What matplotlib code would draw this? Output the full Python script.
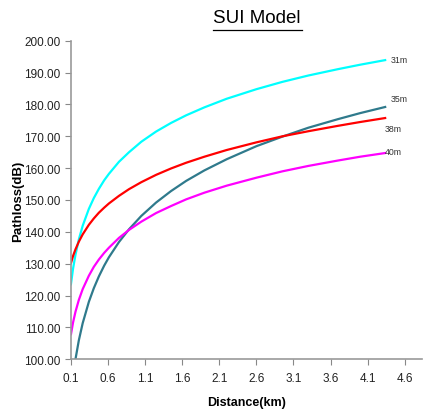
import matplotlib
matplotlib.use("Agg")
import matplotlib.pyplot as plt
from matplotlib.lines import Line2D

plt.rcParams['font.family'] = ['Liberation Sans', 'DejaVu Sans']

distance = [0.1, 0.13, 0.163, 0.208, 0.26, 0.343, 0.41, 0.478, 0.55, 0.613, 0.749, 0.884, 1.05,
            1.249, 1.45, 1.654, 1.9, 2.2, 2.6, 2.95, 3.3, 3.7, 4.0, 4.35]
pl_31m = [123.2, 128.4, 132.8, 137.6, 141.9, 147.2, 150.6, 153.5, 156.2, 158.2, 162.0, 165.0, 168.3,
          171.5, 174.2, 176.6, 179.1, 181.8, 184.8, 187.1, 189.1, 191.1, 192.5, 194.0]
pl_35m = [88.2, 94.6, 100.0, 105.9, 111.3, 118.0, 122.3, 126.0, 129.4, 132.0, 136.8, 140.8, 145.0,
          149.2, 152.8, 156.0, 159.3, 162.8, 166.9, 169.9, 172.7, 175.4, 177.3, 179.3]
pl_38m = [130.0, 132.4, 134.5, 136.9, 139.2, 142.2, 144.2, 146.0, 147.6, 148.9, 151.3, 153.4, 155.6,
          157.9, 159.9, 161.7, 163.6, 165.7, 168.1, 170.0, 171.6, 173.3, 174.5, 175.8]
pl_40m = [107.5, 111.5, 114.9, 118.6, 122.0, 126.2, 129.0, 131.3, 133.4, 135.0, 138.1, 140.6, 143.2,
          145.9, 148.1, 150.2, 152.3, 154.5, 157.0, 159.0, 160.7, 162.4, 163.6, 164.8]
labels = ["31m", "35m", "38m", "40m"]
xticks = [0.1, 0.6, 1.1, 1.6, 2.1, 2.6, 3.1, 3.6, 4.1, 4.6]
yticks = [100, 110, 120, 130, 140, 150, 160, 170, 180, 190, 200]

fig = plt.figure(figsize=(4.24, 4.14), dpi=100)
ax = fig.add_axes([0.167, 0.130, 0.828, 0.769])

series = [pl_31m, pl_35m, pl_38m, pl_40m]
colors = ["#00FFFF", "#2F7A8C", "#FF0000", "#FF00FF"]
for ys, c in zip(series, colors):
    ax.plot(distance, ys, color=c, lw=1.6, solid_capstyle="butt")

# end labels
offsets = [(3, 0), (3, 6), (-1, -8), (-1, 1)]
for ys, lab, (dx, dy) in zip(series, labels, offsets):
    ax.annotate(lab, (distance[-1], ys[-1]), xytext=(dx, dy), textcoords="offset points",
                fontsize=6.3, color="#333333", va="center", ha="left")

ax.set_xlim(0.1, 4.83)
ax.set_ylim(100, 200)
ax.set_xticks(xticks)
ax.set_xticklabels([f"{t:.1f}" for t in xticks])
ax.set_yticks(yticks)
ax.set_yticklabels([f"{t:.2f}" for t in yticks])
ax.tick_params(labelsize=8.5, colors="#222222", length=4, width=0.8)
ax.tick_params(axis="x", pad=5)
ax.tick_params(color="#888888")
for s in ["top", "right"]:
    ax.spines[s].set_visible(False)
for s in ["left", "bottom"]:
    ax.spines[s].set_color("#999999")
    ax.spines[s].set_linewidth(1.2)

ax.set_xlabel("Distance(km)", fontsize=9, fontweight="bold", labelpad=9)
ax.set_ylabel("Pathloss(dB)", fontsize=9.5, fontweight="bold", labelpad=0)

fig.text(0.606, 0.955, "SUI Model", fontsize=13.5, ha="center", va="center")
fig.add_artist(Line2D([0.503, 0.712], [0.926, 0.926], color="black", lw=0.9))

fig.savefig("out.png", dpi=100)
